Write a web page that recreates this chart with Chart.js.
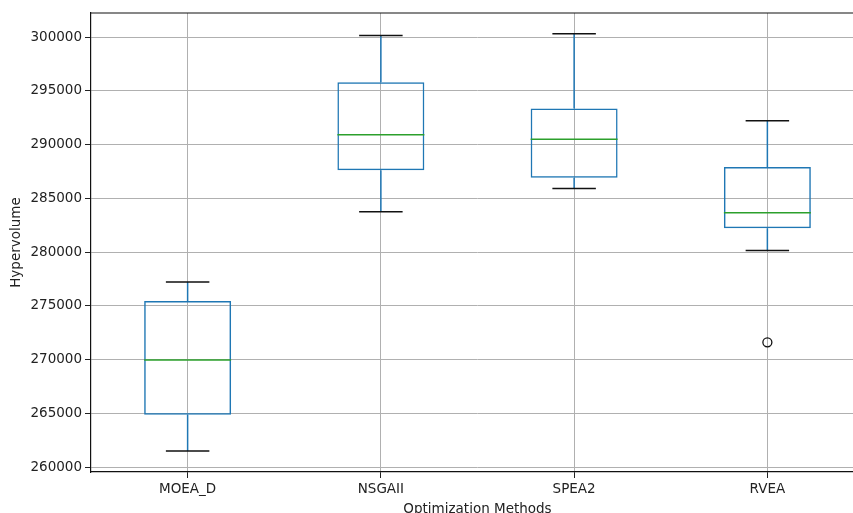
<!DOCTYPE html>
<html>
<head>
<meta charset="utf-8">
<script src="https://cdn.jsdelivr.net/npm/chart.js@4.4.1/dist/chart.umd.min.js"></script>
<style>
html, body { margin: 0; padding: 0; overflow: hidden; background: #fff; width: 853px; height: 513px; }
#wrap { position: absolute; left: 0; top: 0; width: 872px; height: 522px; }
</style>
</head>
<body>
<div id="wrap"><canvas id="chart" width="872" height="522"></canvas></div>
<script>
// Boxplot stats
const methods = ['MOEA_D', 'NSGAII', 'SPEA2', 'RVEA'];
const whiskerLow = [261500, 283750, 285900, 280150];
const q1 = [264850, 287600, 286900, 282200];
const medians = [269950, 290900, 290500, 283650];
const q3 = [275450, 295800, 293350, 287900];
const whiskerHigh = [277200, 300150, 300300, 292200];
const outlierMethods = ['RVEA'];
const outlierValues = [271600];
const yTicks = [260000, 265000, 270000, 275000, 280000, 285000, 290000, 295000, 300000];

const font = { family: 'DejaVu Sans', size: 13.5 };

// whiskers, caps, medians and the top spine
const boxParts = {
    id: 'boxParts',
    afterDatasetsDraw(chart) {
        const { ctx, scales: { x, y }, chartArea } = chart;
        const meta = chart.getDatasetMeta(0);
        ctx.save();
        methods.forEach((m, i) => {
            const bar = meta.data[i];
            const cx = x.getPixelForValue(i);
            const half = bar.width / 2;

            ctx.strokeStyle = '#1f77b4';
            ctx.lineWidth = 1.5;
            ctx.beginPath();
            ctx.moveTo(cx, y.getPixelForValue(whiskerLow[i]));
            ctx.lineTo(cx, y.getPixelForValue(q1[i]));
            ctx.moveTo(cx, y.getPixelForValue(q3[i]));
            ctx.lineTo(cx, y.getPixelForValue(whiskerHigh[i]));
            ctx.stroke();

            ctx.strokeStyle = '#111';
            ctx.beginPath();
            ctx.moveTo(cx - half / 2, y.getPixelForValue(whiskerLow[i]));
            ctx.lineTo(cx + half / 2, y.getPixelForValue(whiskerLow[i]));
            ctx.moveTo(cx - half / 2, y.getPixelForValue(whiskerHigh[i]));
            ctx.lineTo(cx + half / 2, y.getPixelForValue(whiskerHigh[i]));
            ctx.stroke();

            ctx.strokeStyle = '#2ca02c';
            ctx.beginPath();
            ctx.moveTo(cx - half, y.getPixelForValue(medians[i]));
            ctx.lineTo(cx + half, y.getPixelForValue(medians[i]));
            ctx.stroke();
        });

        ctx.strokeStyle = '#111';
        ctx.lineWidth = 1.2;
        ctx.beginPath();
        ctx.moveTo(chartArea.left, chartArea.top);
        ctx.lineTo(chartArea.right, chartArea.top);
        ctx.lineTo(chartArea.right, chartArea.bottom);
        ctx.stroke();
        ctx.restore();
    }
};

new Chart(document.getElementById('chart'), {
    type: 'bar',
    data: {
        labels: methods,
        datasets: [{
            label: 'IQR',
            data: q1.map((v, i) => [v, q3[i]]),
            backgroundColor: 'rgba(0,0,0,0)',
            borderColor: '#1f77b4',
            borderWidth: 1.5,
            borderSkipped: false,
            categoryPercentage: 1,
            barPercentage: 0.45
        }, {
            type: 'line',
            label: 'Outliers',
            data: outlierMethods.map((m, i) => ({ x: m, y: outlierValues[i] })),
            showLine: false,
            pointRadius: 4.5,
            pointBackgroundColor: 'rgba(0,0,0,0)',
            pointBorderColor: '#111',
            pointBorderWidth: 1.3
        }]
    },
    options: {
        responsive: false,
        animation: false,
        devicePixelRatio: 1,
        layout: { padding: { top: 13, left: 0, right: 8, bottom: 0 } },
        plugins: { legend: { display: false }, tooltip: { enabled: false } },
        scales: {
            x: {
                offset: true,
                grid: { offset: false, color: '#b0b0b0', lineWidth: 1, tickLength: 6, tickColor: '#222' },
                border: { color: '#111', width: 1.2 },
                ticks: { color: '#222', font: font, padding: 3 },
                title: { display: true, text: 'Optimization Methods', color: '#222', font: font, padding: { top: 2, bottom: 4 } },
                afterFit: s => { s.height = 50; }
            },
            y: {
                min: 259535,
                max: 302233,
                afterBuildTicks: s => { s.ticks = yTicks.map(v => ({ value: v })); },
                grid: { color: '#b0b0b0', lineWidth: 1, tickLength: 6, tickColor: '#222' },
                border: { color: '#111', width: 1.2 },
                ticks: { color: '#222', font: font, padding: 3, callback: v => String(v) },
                title: { display: true, text: 'Hypervolume', color: '#222', font: font, padding: 8 },
                afterFit: s => { s.width = 91; }
            }
        }
    },
    plugins: [boxParts]
});
</script>
</body>
</html>
